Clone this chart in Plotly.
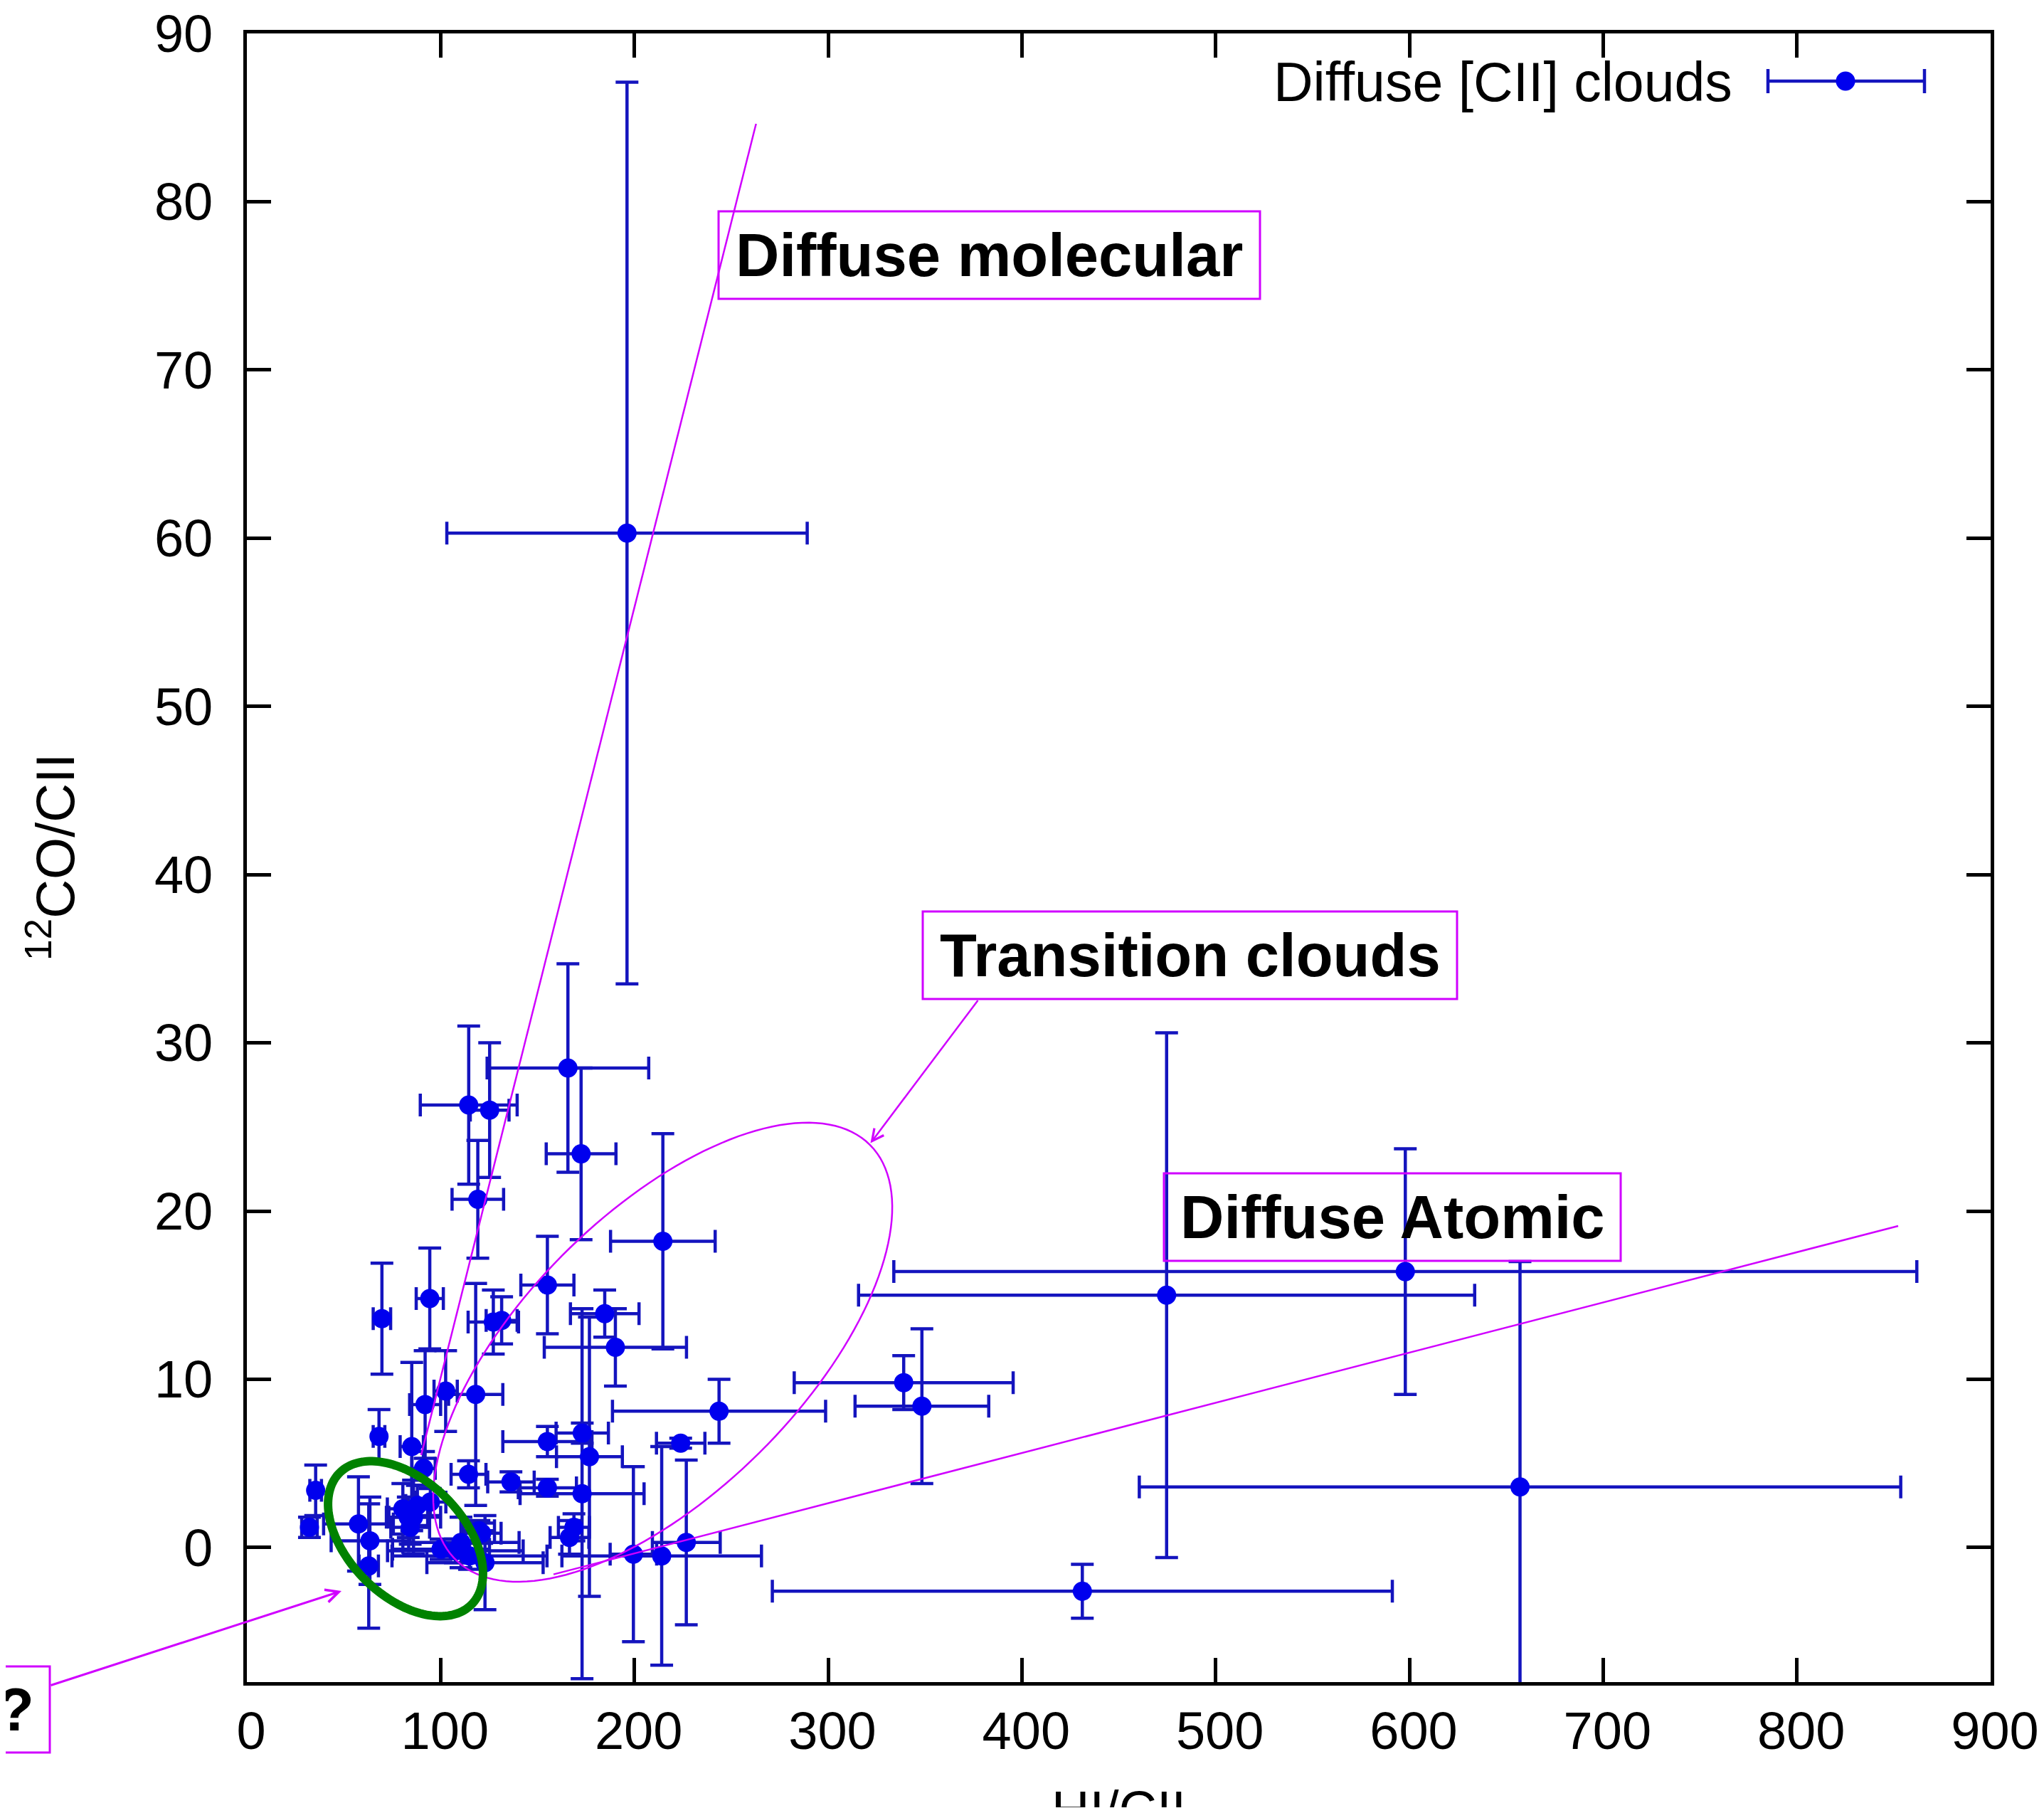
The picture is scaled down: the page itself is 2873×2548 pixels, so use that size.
import numpy as np
import plotly.graph_objects as go

# ---------------- data ----------------
hi_cii = [196.2, 165.7, 114.5, 125.3, 172.5, 119.2, 214.7, 155.1, 69.7, 94.4,
          127.2, 131.5, 184.7, 190.2, 339.0, 348.4, 474.7, 597.9, 657.1, 431.2,
          243.7, 223.9, 214.1, 199.5, 226.8, 173.1, 176.8, 173.0, 155.1, 155.1,
          136.3, 114.4, 118.1, 102.6, 92.0, 85.1, 68.2, 35.5, 32.3, 57.6,
          63.5, 62.9, 80.5, 84.3, 88.0, 91.2, 94.7, 100.2, 107.6, 114.9,
          119.8, 122.9, 166.5, 168.8, 121.2, 110.5, 86.0, 83.3]
co_cii = [60.3, 28.5, 26.3, 26.0, 23.4, 20.7, 18.2, 15.6, 13.6, 14.8,
          13.4, 13.5, 13.9, 11.9, 9.8, 8.4, 15.0, 16.4, 3.6, -2.6,
          8.1, 6.2, -0.5, -0.4, 0.3, 6.8, 5.4, 3.2, 6.3, 3.55,
          3.9, 4.35, 9.1, 9.3, 8.5, 6.0, 6.6, 3.4, 1.2, 1.4,
          0.4, -1.1, 2.3, 1.2, 2.5, 4.7, 2.7, -0.1, -0.2, -0.5,
          1.0, -0.9, 0.6, 1.2, 0.85, 0.3, 1.8, 1.8]
hi_err = [93.0, 41.7, 25.0, 10.0, 18.0, 13.3, 27.0, 13.7, 4.5, 7.0,
          13.0, 8.0, 17.7, 36.7, 56.5, 34.5, 159.0, 264.0, 196.5, 160.0,
          55.0, 12.5, 51.5, 12.0, 17.5, 13.5, 17.0, 32.0, 23.0, 15.0,
          12.0, 9.0, 14.0, 6.0, 8.0, 6.0, 3.0, 3.0, 4.0, 18.0,
          20.0, 5.0, 8.0, 10.0, 6.0, 6.0, 8.0, 25.0, 35.0, 40.0,
          8.0, 30.0, 10.0, 8.0, 10.0, 30.0, 14.0, 10.0]
co_err = [26.8, 6.2, 4.7, 4.0, 5.1, 3.5, 6.4, 2.9, 3.3, 3.0,
          1.9, 1.4, 1.4, 2.3, 1.6, 4.6, 15.6, 7.3, 13.4, 1.6,
          1.9, 0.3, 6.5, 5.2, 4.9, 0.6, 8.3, 11.0, 0.9, 0.5,
          0.6, 0.8, 6.6, 2.4, 3.2, 5.0, 1.6, 1.5, 0.6, 2.8,
          2.6, 3.7, 1.5, 1.0, 1.2, 1.0, 0.8, 0.6, 0.7, 0.8,
          0.6, 2.8, 1.0, 0.8, 0.6, 1.5, 2.2, 1.2]

x_ticks = list(range(0, 901, 100))
y_ticks = list(range(0, 91, 10))
x_title = "HI/CII"
y_title = "<sup>12</sup>CO/CII"
series_name = "Diffuse [CII] clouds"

# ---------------- geometry of the page ----------------
W, H = 2873, 2548          # browser window
OFF = 8                    # default <body> margin of the written page
L, R, T, B = 347, 2798, 47, 2364   # plot area, in page pixels
XMIN, XMAX = 0, 900
YMIN, YMAX = -8, 90

MAGENTA = "#d000ff"
BAR_BLUE = "#1414be"
DOT_BLUE = "#0000ee"
FONT = "Liberation Sans, Arial, Helvetica, sans-serif"


def pxp(px, py):
    """page pixel -> paper coords"""
    return (px - L) / (R - L), (B - py) / (B - T)


def pxd(px, py):
    """page pixel -> data coords"""
    return (XMIN + (px - L) / (R - L) * (XMAX - XMIN),
            YMAX - (py - T) / (B - T) * (YMAX - YMIN))


def ellipse_path(cx, cy, a, b, ang_deg, n=160):
    t = np.linspace(0, 2 * np.pi, n)
    ca, sa = np.cos(np.radians(ang_deg)), np.sin(np.radians(ang_deg))
    ex = a * np.cos(t) * ca - b * np.sin(t) * sa
    ey = a * np.cos(t) * sa + b * np.sin(t) * ca
    pts = [pxd(cx + x, cy - y) for x, y in zip(ex, ey)]
    return "M " + " L ".join(f"{x:.4f},{y:.4f}" for x, y in pts) + " Z"


fig = go.Figure()
fig.add_trace(go.Scatter(
    x=hi_cii, y=co_cii, mode="markers", name=series_name, showlegend=False,
    marker=dict(size=27, color=DOT_BLUE, line=dict(width=0)),
    error_x=dict(type="data", array=hi_err, visible=True, color=BAR_BLUE,
                 thickness=4.5, width=16),
    error_y=dict(type="data", array=co_err, visible=True, color=BAR_BLUE,
                 thickness=4.5, width=16),
))

shapes = []
annotations = []


def rect_box(x0, y0, x1, y1, width=3):
    p0 = pxp(x0, y0)
    p1 = pxp(x1, y1)
    shapes.append(dict(type="rect", xref="paper", yref="paper",
                       x0=p0[0], y0=p1[1], x1=p1[0], y1=p0[1],
                       line=dict(color=MAGENTA, width=width),
                       fillcolor="rgba(0,0,0,0)", layer="above"))


def label(text, px, py, size, bold=True, xanchor="center", yanchor="middle",
          angle=0):
    p = pxp(px, py)
    annotations.append(dict(xref="paper", yref="paper", x=p[0], y=p[1],
                            text=f"<b>{text}</b>" if bold else text,
                            showarrow=False, xanchor=xanchor, yanchor=yanchor,
                            textangle=angle,
                            font=dict(family=FONT, size=size, color="black")))


# text boxes
rect_box(1010, 297, 1771, 420)
label("Diffuse molecular", 1390.5, 358.5, 85)
rect_box(1297, 1281, 2048, 1404)
label("Transition clouds", 1672.5, 1342.5, 85)
rect_box(1636, 1649, 2278, 1772)
label("Diffuse Atomic", 1957, 1710.5, 85)
rect_box(-10, 2342, 70, 2463)
label("?", 22, 2402, 85)

# straight guide lines
mx0, my0 = pxd(592, 2045)
mx1, my1 = pxd(1062.7, 174)
shapes.append(dict(type="line", xref="x", yref="y", x0=mx0, y0=my0, x1=mx1,
                   y1=my1, line=dict(color=MAGENTA, width=2.5), layer="above"))
ax0, ay0 = pxd(778, 2212.6)
ax1, ay1 = pxd(2668, 1723)
shapes.append(dict(type="line", xref="x", yref="y", x0=ax0, y0=ay0, x1=ax1,
                   y1=ay1, line=dict(color=MAGENTA, width=2.5), layer="above"))

# ellipses
shapes.append(dict(type="path", xref="x", yref="y",
                   path=ellipse_path(931.5, 1900.4, 412, 196, 45),
                   line=dict(color=MAGENTA, width=2.5), layer="above"))
shapes.append(dict(type="path", xref="x", yref="y",
                   path=ellipse_path(570, 2162.5, 131, 81, -45),
                   line=dict(color="#008200", width=12), layer="above"))

# arrows
hx, hy = pxd(1223.5, 1606.6)
annotations.append(dict(x=hx, y=hy, xref="x", yref="y", text=" ",
                        font=dict(size=1), showarrow=True, ax=152.5, ay=-202.6,
                        arrowhead=5, arrowsize=1.3, arrowwidth=2.5,
                        arrowcolor=MAGENTA, standoff=0, startstandoff=0))
hx, hy = pxd(480, 2236)
annotations.append(dict(x=hx, y=hy, xref="x", yref="y", text=" ",
                        font=dict(size=1), showarrow=True, ax=-410, ay=133,
                        arrowhead=5, arrowsize=1.2, arrowwidth=3,
                        arrowcolor=MAGENTA, standoff=0, startstandoff=0))

# legend (drawn by hand, gnuplot style)
label(series_name, 2437, 115, 77, bold=False, xanchor="right")
lx0, ly = pxp(2485, 114)
lx1, _ = pxp(2705, 114)
shapes.append(dict(type="line", xref="paper", yref="paper", x0=lx0, x1=lx1,
                   y0=ly, y1=ly, line=dict(color=BAR_BLUE, width=4.5)))
for cxp in (2485, 2705):
    c0 = pxp(cxp, 97)
    c1 = pxp(cxp, 131)
    shapes.append(dict(type="line", xref="paper", yref="paper", x0=c0[0],
                       x1=c0[0], y0=c1[1], y1=c0[1],
                       line=dict(color=BAR_BLUE, width=4.5)))
d0 = pxp(2594 - 13.5, 114 - 13.5)
d1 = pxp(2594 + 13.5, 114 + 13.5)
shapes.append(dict(type="circle", xref="paper", yref="paper", x0=d0[0],
                   x1=d1[0], y0=d1[1], y1=d0[1], fillcolor=DOT_BLUE,
                   line=dict(width=0)))

# axis titles
label(x_title, 1572.5, 2500, 74, bold=False, yanchor="top")
label(y_title, 72, 1205, 76, bold=False, angle=-90)

axis_common = dict(showline=True, mirror="ticks", linewidth=5,
                   linecolor="black", ticks="inside", ticklen=34,
                   tickwidth=5, tickcolor="black", showgrid=False,
                   zeroline=False, automargin=False,
                   ticklabeloverflow="allow",
                   tickfont=dict(family=FONT, size=74, color="black"))

fig.update_layout(
    width=W - 2 * OFF, height=H - 2 * OFF,
    margin=dict(l=L - OFF, r=(W - OFF) - R, t=T - OFF, b=(H - OFF) - B, pad=0,
                autoexpand=False),
    paper_bgcolor="white", plot_bgcolor="white",
    xaxis=dict(range=[XMIN, XMAX], tickvals=x_ticks,
               ticktext=[str(v) for v in x_ticks], ticklabelshift=6,
               **axis_common),
    yaxis=dict(range=[YMIN, YMAX], tickvals=y_ticks,
               ticktext=[str(v) for v in y_ticks], ticklabelstandoff=28,
               **axis_common),
    shapes=shapes, annotations=annotations, showlegend=False,
)

fig.write_html("out.html")
